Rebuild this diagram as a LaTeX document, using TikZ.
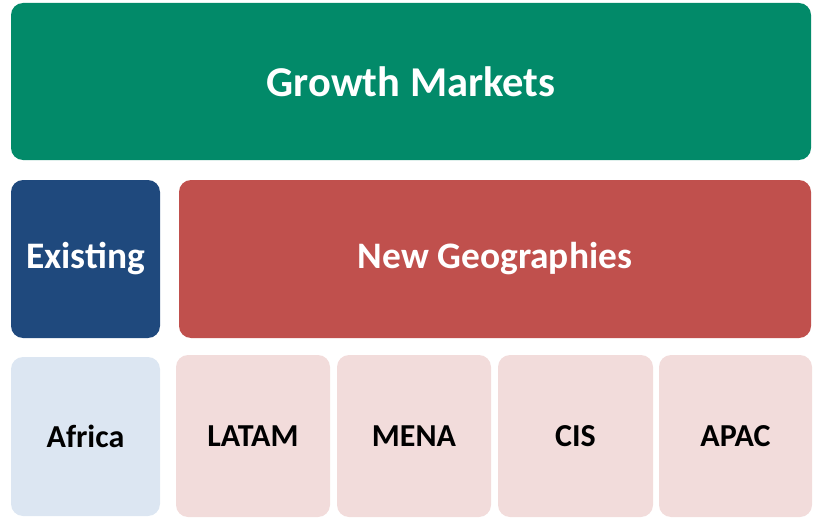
\documentclass[tikz,border=0pt]{standalone}
\usepackage{fontspec}
\setmainfont{Carlito}
\usetikzlibrary{positioning}
\definecolor{growthgreen}{HTML}{028A69}
\definecolor{existblue}{HTML}{1F497D}
\definecolor{newred}{HTML}{C0504D}
\definecolor{lightblue}{HTML}{DCE6F2}
\definecolor{lightred}{HTML}{F2DCDB}
\tikzset{
  tile/.style={rounded corners=12pt, inner sep=0pt, font=\bfseries, align=center},
  bigtext/.style={font=\bfseries\fontsize{42.5}{48}\selectfont},
  midtext/.style={font=\bfseries\fontsize{37.4}{42}\selectfont},
  smalltext/.style={font=\bfseries\fontsize{32}{36}\selectfont},
}

\begin{document}
\begin{tikzpicture}[x=1pt, y=-1pt]
        \useasboundingbox (0,0) rectangle (820,519);

        % top row
        \node[tile, bigtext, fill=growthgreen, text=white, minimum width=800pt, minimum height=157pt]
              (growth) at (411,81.5) {Growth Markets};

        % middle row
        \node[tile, midtext, fill=existblue, text=white, minimum width=149pt, minimum height=158pt]
              (existing) at (85.5,259) {Existing};
        \node[tile, midtext, fill=newred, text=white, minimum width=632pt, minimum height=158pt]
              (newgeo) at (495,259) {New Geographies};

        % bottom row
        \node[tile, smalltext, fill=lightblue, minimum width=149pt, minimum height=159pt]
              (africa) at (85.5,436.5) {Africa};
        \node[tile, smalltext, fill=lightred, minimum width=154pt, minimum height=162pt]
              (latam) at (253,436) {LATAM};
        \node[tile, smalltext, fill=lightred, minimum width=154pt, minimum height=162pt]
              (mena) at (414,436) {MENA};
        \node[tile, smalltext, fill=lightred, minimum width=155pt, minimum height=162pt]
              (cis) at (575.5,436) {CIS};
        \node[tile, smalltext, fill=lightred, minimum width=153pt, minimum height=162pt]
              (apac) at (735.5,436) {APAC};

\end{tikzpicture}
\end{document}
